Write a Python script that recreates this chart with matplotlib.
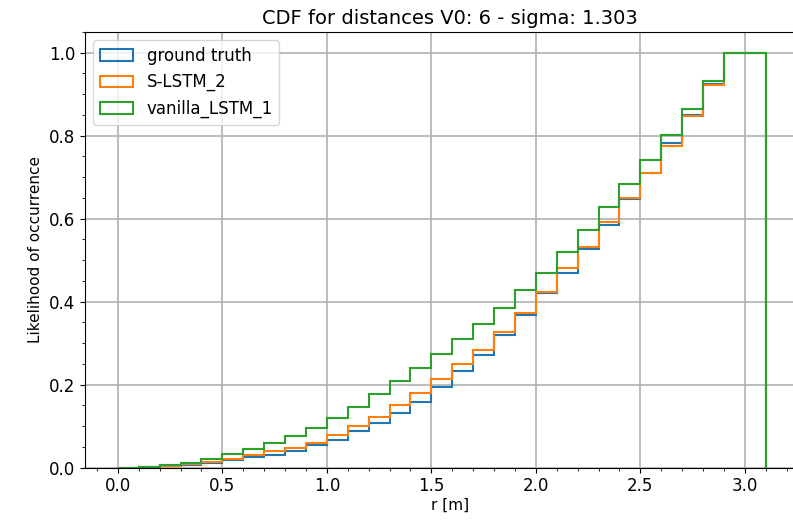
import numpy as np
import matplotlib.pyplot as plt

# bin edges of the distance histogram (0.1 m wide)
edges = np.round(np.arange(0, 3.2, 0.1), 1)

# cumulative likelihood per bin
ground_truth = [0.0, 0.001, 0.003, 0.006, 0.011, 0.018, 0.025, 0.031, 0.040, 0.054,
                0.066, 0.089, 0.107, 0.131, 0.159, 0.195, 0.233, 0.272, 0.320, 0.368,
                0.420, 0.470, 0.528, 0.585, 0.647, 0.711, 0.782, 0.850, 0.925, 1.0, 1.0]
s_lstm_2 = [0.0, 0.002, 0.004, 0.008, 0.014, 0.022, 0.030, 0.040, 0.047, 0.060,
            0.079, 0.100, 0.123, 0.151, 0.181, 0.213, 0.249, 0.284, 0.327, 0.372,
            0.424, 0.480, 0.532, 0.592, 0.649, 0.711, 0.776, 0.847, 0.923, 1.0, 1.0]
vanilla_lstm_1 = [0.0, 0.002, 0.006, 0.012, 0.020, 0.032, 0.044, 0.060, 0.077, 0.096,
                  0.119, 0.147, 0.177, 0.209, 0.241, 0.274, 0.310, 0.347, 0.384, 0.427,
                  0.468, 0.519, 0.572, 0.628, 0.684, 0.742, 0.802, 0.865, 0.931, 1.0, 1.0]

series = [('ground truth', ground_truth),
          ('S-LSTM_2', s_lstm_2),
          ('vanilla_LSTM_1', vanilla_lstm_1)]

fig = plt.figure(figsize=(7.93, 5.22), dpi=100)
# the original picture is cropped on the right, so the axes run past the edge
ax = fig.add_axes([0.107, 0.104, 0.92, 0.835])

for label, vals in series:
    ax.hist(edges[:-1] + 0.05, bins=edges, weights=vals, histtype='step',
            lw=1.5, label=label)

ax.set_xlim(-0.158, 3.333)
ax.set_ylim(0, 1.05)
ax.set_xticks(np.arange(0, 3.01, 0.5))
ax.set_yticks(np.arange(0, 1.01, 0.2))
ax.minorticks_on()
ax.grid(True, which='major', color='#b0b0b0', lw=1.2)
ax.tick_params(labelsize=12)
ax.set_title('CDF for distances V0: 6 - sigma: 1.303', fontsize=14)
ax.set_xlabel('r [m]', fontsize=11, labelpad=2)
ax.set_ylabel('Likelihood of occurrence', fontsize=11)
ax.legend(loc='upper left', fontsize=12)

fig.savefig('out.png', dpi=100)
